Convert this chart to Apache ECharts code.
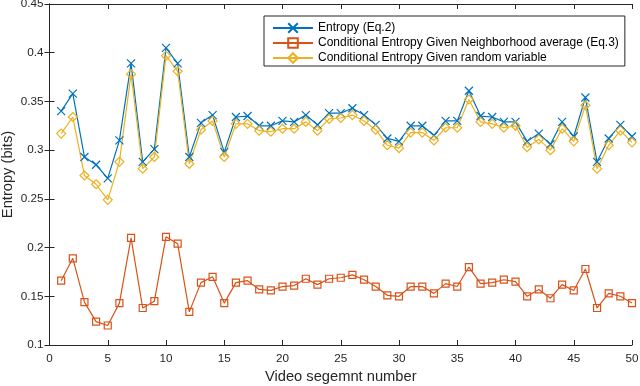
<!DOCTYPE html>
<html>
<head>
<meta charset="utf-8">
<script src="https://cdn.jsdelivr.net/npm/echarts@6/dist/echarts.min.js"></script>
<style>
  html, body { margin: 0; padding: 0; background: #fff; }
  #chart { width: 640px; height: 386px; }
</style>
</head>
<body>
<div id="chart"></div>
<script>
// video segment index 1..50
var segments = [];
for (var i = 1; i <= 50; i++) segments.push(i);

// Entropy (Eq.2)
var entropy = [
  0.340, 0.358, 0.293, 0.285, 0.271, 0.310, 0.389, 0.288, 0.301, 0.405,
  0.389, 0.293, 0.328, 0.336, 0.298, 0.334, 0.335, 0.325, 0.325, 0.330,
  0.329, 0.336, 0.326, 0.338, 0.338, 0.343, 0.336, 0.326, 0.312, 0.309,
  0.325, 0.325, 0.315, 0.330, 0.330, 0.361, 0.335, 0.334, 0.329, 0.329,
  0.309, 0.317, 0.306, 0.329, 0.314, 0.354, 0.288, 0.312, 0.326, 0.314
];
// Conditional entropy given neighborhood average (Eq.3)
var condNeighbor = [
  0.166, 0.189, 0.144, 0.124, 0.120, 0.143, 0.210, 0.138, 0.145, 0.211,
  0.204, 0.134, 0.164, 0.170, 0.143, 0.164, 0.166, 0.157, 0.156, 0.160,
  0.161, 0.168, 0.162, 0.168, 0.169, 0.172, 0.167, 0.160, 0.151, 0.150,
  0.160, 0.160, 0.153, 0.163, 0.160, 0.180, 0.163, 0.164, 0.167, 0.165,
  0.150, 0.157, 0.148, 0.162, 0.156, 0.178, 0.138, 0.153, 0.150, 0.143
];
// Conditional entropy given random variable
var condRandom = [
  0.317, 0.334, 0.274, 0.265, 0.249, 0.288, 0.378, 0.281, 0.293, 0.397,
  0.381, 0.286, 0.321, 0.330, 0.293, 0.327, 0.327, 0.320, 0.319, 0.322,
  0.322, 0.329, 0.320, 0.332, 0.333, 0.336, 0.330, 0.321, 0.305, 0.302,
  0.318, 0.318, 0.310, 0.323, 0.323, 0.352, 0.329, 0.327, 0.323, 0.325,
  0.303, 0.311, 0.300, 0.322, 0.309, 0.346, 0.281, 0.305, 0.320, 0.308
];
var seriesNames = [
  'Entropy (Eq.2)',
  'Conditional Entropy Given Neighborhood average (Eq.3)',
  'Conditional Entropy Given random variable'
];

function pairs(vals) {
  return segments.map(function (s, k) { return [s, vals[k]]; });
}

var axisColor = '#262626';
var font = 'Liberation Sans, Arial, Helvetica, sans-serif';
var clear = 'rgba(0,0,0,0)';

function makeSeries(name, vals, color, symbol, size) {
  return {
    name: name,
    type: 'line',
    data: pairs(vals),
    symbol: symbol,
    symbolSize: size,
    showAllSymbol: true,
    lineStyle: { color: color, width: 1.2 },
    itemStyle: { color: clear, borderColor: color, borderWidth: 1.2 },
    emphasis: { disabled: true },
    animation: false,
    z: 3
  };
}

var chart = echarts.init(document.getElementById('chart'));
var baseX = {
  type: 'value', min: 0, max: 50, interval: 5,
  axisLine: { lineStyle: { color: axisColor, width: 1 } },
  axisTick: { inside: true, length: 5, lineStyle: { color: axisColor } },
  splitLine: { show: false }
};
var baseY = {
  type: 'value', min: 0.1, max: 0.45, interval: 0.05,
  axisLine: { show: true, lineStyle: { color: axisColor, width: 1 } },
  axisTick: { show: true, inside: true, length: 5, lineStyle: { color: axisColor } },
  splitLine: { show: false }
};

chart.setOption({
  backgroundColor: '#fff',
  textStyle: { fontFamily: font },
  grid: { left: 49.5, right: 8, top: 4, bottom: 41, containLabel: false,
    outerBoundsMode: 'none' },
  legend: {
    orient: 'vertical',
    left: 264, top: 16,
    data: seriesNames,
    itemWidth: 40, itemHeight: 12, itemGap: 3,
    padding: [6, 6, 2, 8],
    backgroundColor: '#fff',
    borderColor: axisColor, borderWidth: 1,
    borderRadius: 0,
    textStyle: { fontSize: 12, color: '#000', fontFamily: font, lineHeight: 12 }
  },
  xAxis: [
    Object.assign({}, baseX, {
      position: 'bottom',
      name: 'Video segemnt number',
      nameLocation: 'middle', nameGap: 24,
      nameMoveOverlap: false,
      nameTextStyle: { fontSize: 14.7, color: axisColor, fontFamily: font },
      axisLabel: { fontSize: 11.7, color: axisColor, margin: 8, fontFamily: font }
    }),
    Object.assign({}, baseX, {
      position: 'top',
      axisLabel: { show: false }
    })
  ],
  yAxis: [
    Object.assign({}, baseY, {
      position: 'left',
      name: 'Entropy (bits)',
      nameLocation: 'middle', nameGap: 34,
      nameMoveOverlap: false,
      nameTextStyle: { fontSize: 14.7, color: axisColor, fontFamily: font },
      axisLabel: { fontSize: 11.7, color: axisColor, margin: 6, fontFamily: font,
        formatter: function (v) { return String(Math.round(v * 100) / 100); } }
    }),
    Object.assign({}, baseY, {
      position: 'right',
      axisLabel: { show: false }
    })
  ],
  series: [
    makeSeries(seriesNames[0], entropy, '#0072BD',
      'path://M0,0L10,10M0,10L10,0', 8),
    makeSeries(seriesNames[1], condNeighbor, '#D95319', 'rect', 7),
    makeSeries(seriesNames[2], condRandom, '#EDB120', 'diamond', 9)
  ]
});
</script>
</body>
</html>
